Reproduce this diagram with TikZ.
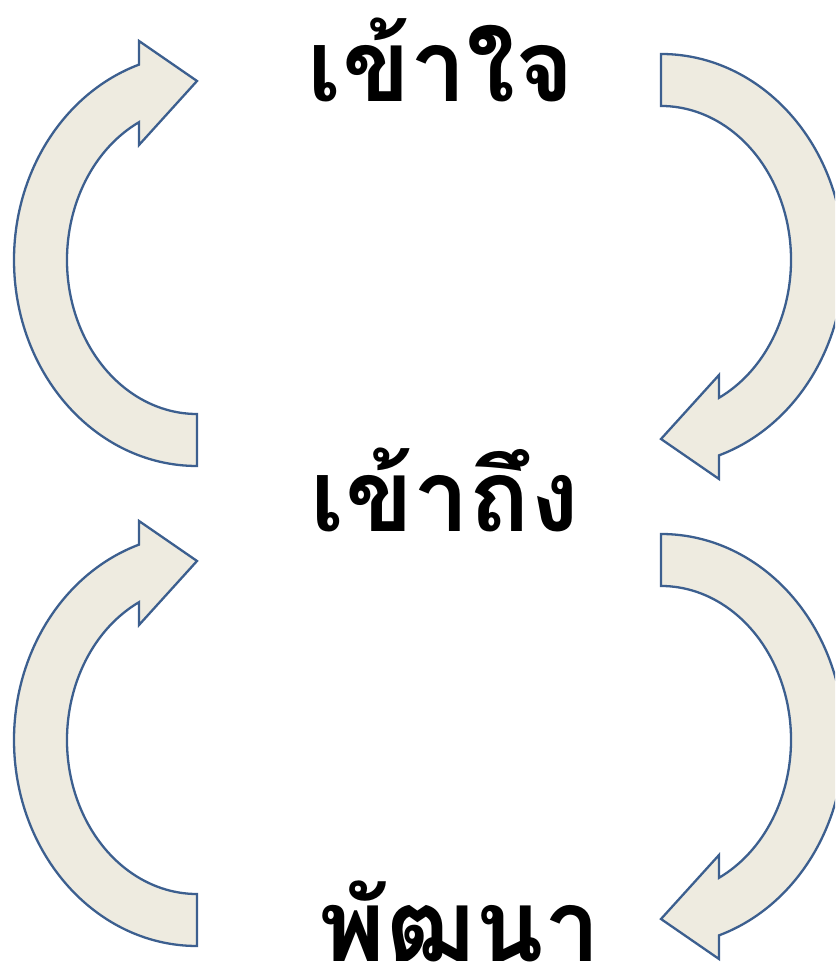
\documentclass[tikz,border=0pt]{standalone}
\usepackage{fontspec}
\newfontfamily\thaifont[Script=Thai]{Loma}
\definecolor{arrowline}{HTML}{3C5F8F}
\definecolor{arrowfill}{HTML}{EEEBE0}
\tikzset{
  curvearrow/.style={draw=arrowline, fill=arrowfill, line width=2.3pt, line join=miter},
  word/.style={anchor=base, inner sep=0pt, font=\thaifont\bfseries\fontsize{100}{120}\selectfont}
}
\newcommand{\leftcurvearrow}{%
  \path[curvearrow] (197,716) ++(270:183 and 206)
    arc[start angle=270, end angle=108.5, x radius=183, y radius=206]
    -- (139,935) -- (197,895) -- (139,831) -- (139,853.8)
    arc[start angle=116.5, end angle=270, x radius=130, y radius=154]
    -- cycle;}
\begin{document}
\begin{tikzpicture}[x=1pt,y=1pt]
\useasboundingbox (0,0) rectangle (835,976);
\clip (0,0) rectangle (835,976);
\leftcurvearrow
\begin{scope}[rotate around={180:(429,716)}]
\leftcurvearrow
\end{scope}
\begin{scope}[yshift=-480pt]
\leftcurvearrow
\end{scope}
\begin{scope}[yshift=-480pt, rotate around={180:(429,716)}]
\leftcurvearrow
\end{scope}
\node[word] (w1) at (441,874) {เข้าใจ};
\node[word] (w2) at (445,444) {เข้าถึง};
\node[word] (w3) at (460,14) {พัฒนา};
\end{tikzpicture}
\end{document}
